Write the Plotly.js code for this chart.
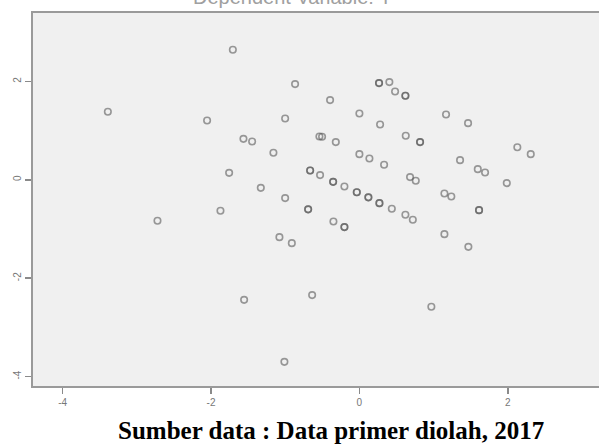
<!DOCTYPE html>
<html>
<head>
<meta charset="utf-8">
<script src="https://cdn.plot.ly/plotly-3.0.1.min.js"></script>
<style>html,body{margin:0;padding:0;background:#fff;}#chart{width:599px;height:447px;}</style>
</head>
<body>
<div id="chart"></div>
<script>
// Regression standardized predicted value (x) vs standardized residual (y)
const predicted = [
  -1.706, -0.867, -3.391, -2.053, -1.001, -1.563, -1.446, -1.159, -1.756,
  0.265, 0.265, 0.404, 0.481, 0.620, 0.620, -0.395, 0.000, 1.168, 1.465, 0.279,
  -0.539, -0.503, -0.318, 0.625, 0.818, 0.818, 2.129, 2.310, 0.000, 0.135, 0.333,
  1.357, 1.596, 1.694, -1.329, -1.001, -0.664, -0.664, -0.530, -0.354, -0.354,
  -0.202, -0.035, -0.035, 0.121, 0.121, 0.270, 0.270, 0.437, 0.620, 0.720,
  0.683, 0.760, 1.987, 1.146, 1.239, 1.613, 1.613, -0.691, -0.691, -1.873,
  -2.722, -0.350, -0.202, -0.202, 1.146, 1.469, -1.078, -0.911, -1.554, -0.637,
  0.970, -1.011
];
const residual = [
  2.642, 1.945, 1.382, 1.205, 1.246, 0.833, 0.778, 0.549, 0.142,
  1.965, 1.965, 1.986, 1.795, 1.707, 1.707, 1.620, 1.348, 1.327, 1.152, 1.124,
  0.880, 0.874, 0.766, 0.894, 0.766, 0.766, 0.663, 0.522, 0.522, 0.433, 0.305,
  0.400, 0.217, 0.148, -0.163, -0.372, 0.189, 0.189, 0.096, -0.041, -0.041,
  -0.136, -0.254, -0.254, -0.356, -0.356, -0.474, -0.474, -0.589, -0.711, -0.813,
  0.055, -0.020, -0.067, -0.278, -0.339, -0.616, -0.616, -0.600, -0.600, -0.630,
  -0.833, -0.848, -0.961, -0.961, -1.104, -1.362, -1.165, -1.287, -2.439, -2.343,
  -2.581, -3.699
];
const xTicks = [-4, -2, 0, 2];
const yTicks = [-4, -2, 0, 2];
const titleText = "Dependent Variable: Y";
const captionText = "Sumber data : Data primer diolah, 2017";

const trace = {
  x: predicted, y: residual, type: 'scatter', mode: 'markers',
  marker: { symbol: 'circle-open', size: 6.5, color: 'rgba(85,85,85,0.58)', line: { width: 1.6 } },
  hoverinfo: 'skip'
};

const layout = {
  width: 599, height: 447,
  margin: { l: 33, r: 0, t: 13, b: 61 },
  paper_bgcolor: '#ffffff', plot_bgcolor: '#f0f0f0',
  showlegend: false,
  xaxis: {
    range: [-4.40, 3.23], tickvals: xTicks, ticktext: xTicks.map(String),
    showgrid: false, zeroline: false, showline: true, mirror: true,
    linecolor: '#9a9a9a', linewidth: 2,
    ticks: 'outside', ticklen: 6, tickwidth: 1.5, tickcolor: '#8a8a8a',
    tickfont: { family: 'Arial, Liberation Sans, sans-serif', size: 10, color: '#777' }
  },
  yaxis: {
    range: [-4.19, 3.39], tickvals: yTicks, ticktext: yTicks.map(String),
    showgrid: false, zeroline: false, showline: true, mirror: false,
    linecolor: '#9a9a9a', linewidth: 2,
    ticks: 'outside', ticklen: 6, tickwidth: 1.5, tickcolor: '#8a8a8a',
    tickangle: -90,
    tickfont: { family: 'Arial, Liberation Sans, sans-serif', size: 10, color: '#777' }
  },
  annotations: [
    { text: titleText, xref: 'paper', yref: 'paper', x: 0.458, y: 1, xanchor: 'center', yanchor: 'bottom',
      yshift: 3, showarrow: false, font: { family: 'Arial, Liberation Sans, sans-serif', size: 20, color: '#a0a0a0' } },
    { text: '<b>' + captionText + '</b>', xref: 'paper', yref: 'paper', x: 0.527, y: 0, xanchor: 'center', yanchor: 'top',
      yshift: -29, showarrow: false, font: { family: 'Liberation Serif, serif', size: 25, color: '#000' } }
  ]
};

Plotly.newPlot('chart', [trace], layout, { displayModeBar: false, staticPlot: true });
</script>
</body>
</html>
